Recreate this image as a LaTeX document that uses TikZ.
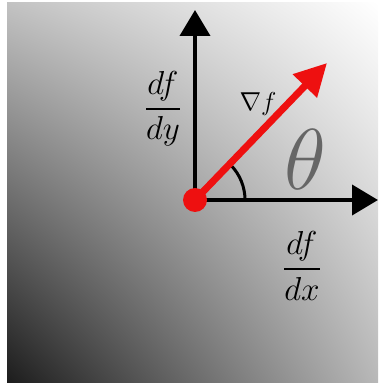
\documentclass[tikz,border=0pt]{standalone}
\usepackage{amsmath}
\usetikzlibrary{arrows.meta,shadings}
\definecolor{gred}{HTML}{EE1010}
\definecolor{cTL}{HTML}{C2C2C2}
\definecolor{cTR}{HTML}{FFFFFF}
\definecolor{cBL}{HTML}{1C1C1C}
\definecolor{cBR}{HTML}{B8B8B8}
\tikzset{
  axisline/.style={line width=4pt, black, -{Triangle[length=26pt, width=30pt]}},
  gradline/.style={line width=7pt, gred, -{Triangle[length=32pt, width=32pt]}},
  lbl/.style={inner sep=0pt},
}
\begin{document}
\begin{tikzpicture}[x=1pt,y=1pt]
\useasboundingbox (0,0) rectangle (378,385);
\fill[white] (0,0) rectangle (378,385);
\shade[upper left=cTL, upper right=cTR, lower left=cBL, lower right=cBR] (7,2) rectangle (378,382);
\coordinate (O) at (195,185);
\coordinate (ytip) at (195,375);
\coordinate (xtip) at (378,185);
\coordinate (gtip) at (327,322);
\draw[axisline] (O) -- (ytip);
\draw[axisline] (O) -- (xtip);
\draw[line width=3pt, black] ([shift={(0:50)}]O) arc[start angle=0, end angle=44, radius=50];
\node[lbl, text=black!60] (th) at (305,225) {\scalebox{6.0}{\Large$\theta$}};
\fill[gred] (O) circle[radius=12];
\draw[gradline] (O) -- (gtip);
\node[lbl] (nab) at (258,281) {\scalebox{1.25}{\huge$\nabla f$}};
\node[lbl] (dfdy) at (163,276) {\scalebox{1.6}{\huge$\dfrac{df}{dy}$}};
\node[lbl] (dfdx) at (302,119) {\scalebox{1.6}{\huge$\dfrac{df}{dx}$}};
\end{tikzpicture}
\end{document}
